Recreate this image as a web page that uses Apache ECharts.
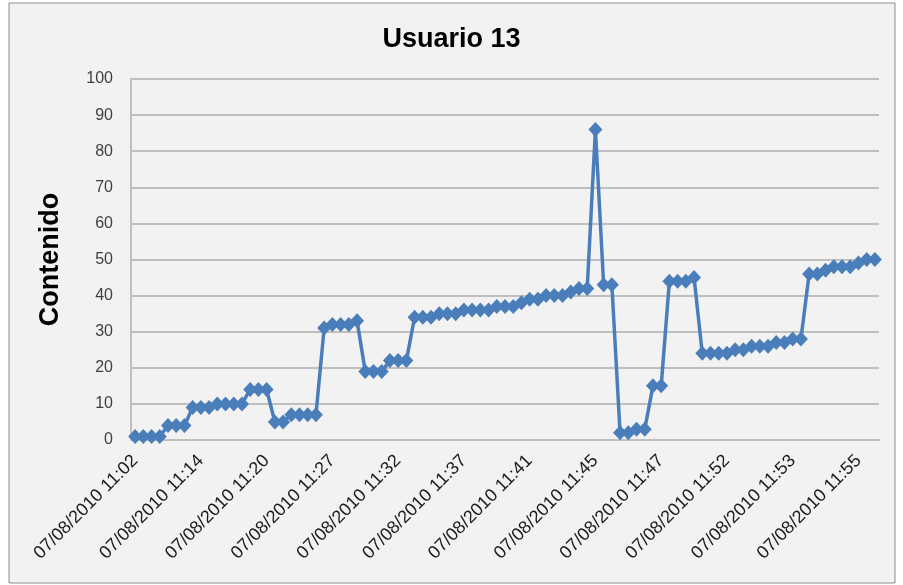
<!DOCTYPE html>
<html>
<head>
<meta charset="utf-8">
<script src="https://cdn.jsdelivr.net/npm/echarts@6/dist/echarts.min.js"></script>
</head>
<body style="margin:0;background:#ffffff;">
<div id="main" style="width:903px;height:585px;"></div>
<script>
// values, one per point (91 points)
var valores = [
    1, 1, 1, 1,
    4, 4, 4,
    9, 9, 9,
    10, 10, 10, 10,
    14, 14, 14,
    5, 5,
    7, 7, 7, 7,
    31, 32, 32, 32, 33,
    19, 19, 19,
    22, 22, 22,
    34, 34, 34, 35, 35, 35, 36, 36, 36, 36, 37, 37, 37, 38, 39, 39, 40, 40, 40, 41, 42, 42,
    86,
    43, 43,
    2, 2, 3, 3,
    15, 15,
    44, 44, 44, 45,
    24, 24, 24, 24, 25, 25, 26, 26, 26, 27, 27, 28, 28,
    46, 46, 47, 48, 48, 48, 49, 50, 50
];

// labels shown on the x axis, one every 8 points
var etiquetas = [
    '07/08/2010 11:02', '07/08/2010 11:14', '07/08/2010 11:20', '07/08/2010 11:27',
    '07/08/2010 11:32', '07/08/2010 11:37', '07/08/2010 11:41', '07/08/2010 11:45',
    '07/08/2010 11:47', '07/08/2010 11:52', '07/08/2010 11:53', '07/08/2010 11:55'
];
var paso = 8;

var categorias = [];
for (var i = 0; i < valores.length; i++) {
    categorias.push(String(i));
}

var myChart = echarts.init(document.getElementById('main'));

myChart.setOption({
    backgroundColor: '#ffffff',
    animation: false,
    graphic: [
        {
            type: 'rect',
            shape: { x: 9, y: 3, width: 886, height: 580 },
            style: { fill: '#f2f2f2', stroke: '#8c8c8c', lineWidth: 1 },
            z: -10
        }
    ],
    title: {
        text: 'Usuario 13',
        left: 'center',
        top: 21,
        textStyle: { fontFamily: 'Liberation Sans', fontSize: 27, fontWeight: 'bold', color: '#000000' }
    },
    grid: {
        left: 131,
        right: 24,
        top: 79,
        bottom: 145
    },
    xAxis: {
        type: 'category',
        boundaryGap: true,
        data: categorias,
        axisLine: { lineStyle: { color: '#bfbfbf', width: 2 } },
        axisTick: { show: false },
        axisLabel: {
            interval: paso - 1,
            rotate: 45,
            margin: 18,
            fontFamily: 'Liberation Sans',
            fontSize: 18,
            color: '#1a1a1a',
            formatter: function (v, idx) {
                return etiquetas[Math.round(idx / paso)] || '';
            }
        },
        splitLine: { show: false }
    },
    yAxis: {
        type: 'value',
        min: 0,
        max: 100,
        interval: 10,
        name: 'Contenido',
        nameLocation: 'middle',
        nameGap: 67,
        nameTextStyle: { fontFamily: 'Liberation Sans', fontSize: 27, fontWeight: 'bold', color: '#000000' },
        axisLine: { show: true, lineStyle: { color: '#bfbfbf', width: 2 } },
        axisTick: { show: false },
        axisLabel: { fontFamily: 'Liberation Sans', fontSize: 16, color: '#404040', margin: 18 },
        splitLine: { lineStyle: { color: '#bfbfbf', width: 2 } }
    },
    series: [
        {
            name: 'Usuario 13',
            type: 'line',
            data: valores,
            symbol: 'diamond',
            symbolSize: [14, 15],
            showAllSymbol: true,
            lineStyle: { color: '#4a7ebb', width: 3.5 },
            itemStyle: { color: '#4a7ebb' }
        }
    ]
});
</script>
</body>
</html>
